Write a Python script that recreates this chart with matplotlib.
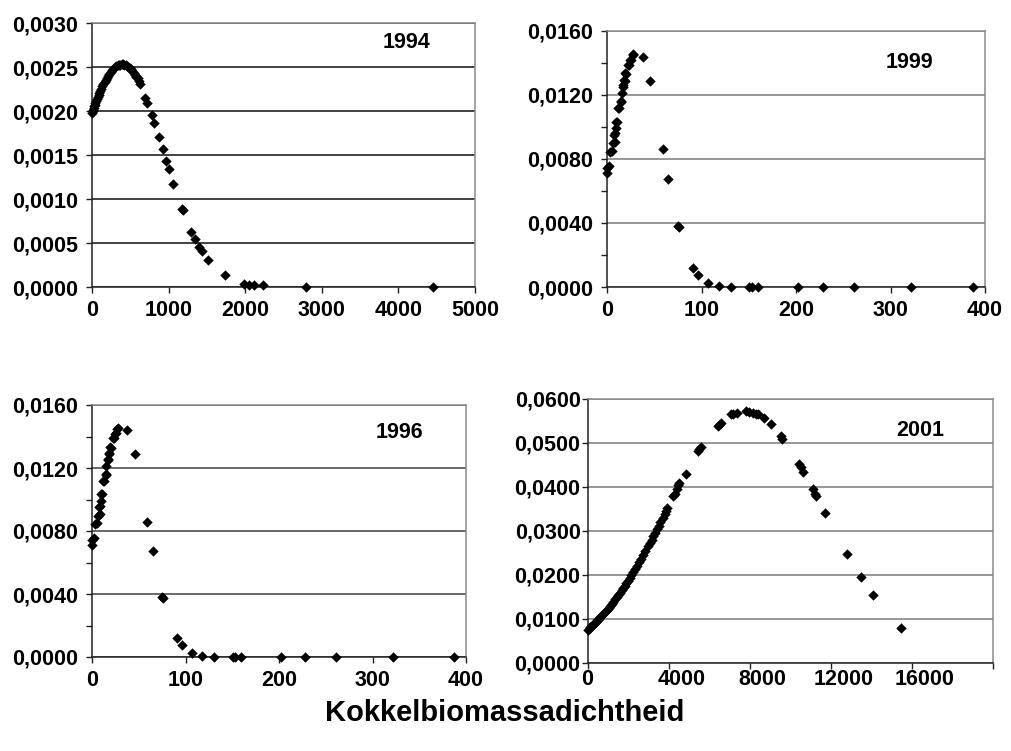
import matplotlib
matplotlib.use("Agg")
import matplotlib.pyplot as plt
from matplotlib.ticker import FuncFormatter, MultipleLocator
import matplotlib.transforms as mtransforms

plt.rcParams['font.family'] = ['Liberation Sans', 'DejaVu Sans']
plt.rcParams['font.weight'] = 'bold'

W, H = 1011, 751

# ---- 1994 ----
x_1994 = [0, 8, 15, 22, 30, 38, 45, 55, 65, 75, 85, 95, 108, 120, 135, 150, 165,
          180, 195, 210, 228, 245, 262, 280, 298, 316, 335, 352, 370, 388, 405,
          422, 440, 458, 475, 492, 510, 528, 545, 562, 580, 598, 615, 632,
          697, 719, 784, 810, 875, 928, 962, 1002, 1058, 1172, 1189, 1298, 1350,
          1398, 1433, 1516, 1733, 1982, 2047, 2112, 2234, 2800, 4456]
y_1994 = [0.001980, 0.002000, 0.002017, 0.002034, 0.002053, 0.002072, 0.002089,
          0.002112, 0.002134, 0.002156, 0.002178, 0.002199, 0.002226, 0.002250,
          0.002279, 0.002306, 0.002332, 0.002356, 0.002380, 0.002401, 0.002425,
          0.002446, 0.002464, 0.002481, 0.002496, 0.002508, 0.002518, 0.002524,
          0.002528, 0.002530, 0.002529, 0.002526, 0.002520, 0.002511, 0.002501,
          0.002488, 0.002472, 0.002454, 0.002434, 0.002412, 0.002390, 0.002370,
          0.002345, 0.002310,
          0.002153, 0.002096, 0.001956, 0.001860, 0.001700, 0.001570, 0.001436,
          0.001337, 0.001166, 0.000892, 0.000873, 0.000627, 0.000547, 0.000456,
          0.000410, 0.000304, 0.000133, 0.000034, 0.000027, 0.000019, 0.000019,
          0.000003, 0.000001]

# ---- 1999 ----
x_1999 = [0, 0.5, 1.8, 3.2, 5.0, 6.0, 7.4, 8.1, 8.8, 9.5, 9.9, 10.2, 12.0, 12.5,
          14.5, 14.8, 15.5, 16.6, 17.0, 18.0, 18.7, 19.4, 20.1, 22.6, 23.5, 24.3,
          25.2, 27.2, 27.9, 37.7, 45.5, 58.9, 64.9, 75.0, 75.8, 90.7, 96.0,
          106.5, 118.0, 131.0, 150.6, 153.0, 159.5, 201.8, 228.3, 261.4, 321.7,
          387.6]
y_1999 = [0.00711, 0.00742, 0.00756, 0.00846, 0.00850, 0.00898, 0.00950, 0.00908,
          0.00960, 0.01033, 0.00992, 0.01033, 0.01117, 0.01120, 0.01158, 0.01165,
          0.01210, 0.01252, 0.01260, 0.01294, 0.01290, 0.01335, 0.01330, 0.01388,
          0.01390, 0.01419, 0.01420, 0.01450, 0.01454, 0.01440, 0.01290, 0.00860,
          0.00675, 0.00380, 0.00372, 0.00121, 0.00075, 0.00027, 0.00006, 0.00001,
          0.0, 0.0, 0.0, 0.0, 0.0, 0.0, 0.0, 0.0]

# ---- 1996 ----
x_1996 = list(x_1999)
y_1996 = list(y_1999)

# ---- 2001 ----
x_2001 = [0, 60, 120, 180, 250, 320, 400, 480, 560, 640, 720, 800, 880, 960, 1040,
          1120, 1200, 1280, 1360, 1440, 1520, 1600, 1680, 1760, 1840, 1920, 2000,
          2080, 2170, 2260, 2350, 2440, 2540, 2640, 2740, 2850, 3000, 3080, 3160,
          3250, 3340, 3430, 3520, 3600, 3700, 3800, 3880, 3940,
          4198, 4321, 4400, 4486, 4527, 4864, 5432, 5500, 5589, 6420, 6500, 6600,
          7078, 7200, 7358, 7819, 7950, 8148, 8300, 8400, 8724, 9053, 9547, 9600,
          10453, 10550, 10650, 11111, 11200, 11276, 11720, 12807, 13498, 14074,
          15473]
y_2001 = [0.00760, 0.00784, 0.00809, 0.00834, 0.00864, 0.00894, 0.00930, 0.00967,
          0.01005, 0.01045, 0.01085, 0.01126, 0.01168, 0.01212, 0.01256, 0.01302,
          0.01349, 0.01397, 0.01445, 0.01495, 0.01546, 0.01598, 0.01652, 0.01706,
          0.01761, 0.01817, 0.01874, 0.01932, 0.01999, 0.02067, 0.02136, 0.02206,
          0.02285, 0.02365, 0.02447, 0.02538, 0.02664, 0.02732, 0.02801, 0.02879,
          0.02957, 0.03036, 0.03116, 0.03200, 0.03290, 0.03390, 0.03460, 0.03530,
          0.03800, 0.03850, 0.03950, 0.04040, 0.04100, 0.04300, 0.04820, 0.04870,
          0.04910, 0.05380, 0.05420, 0.05460, 0.05650, 0.05660, 0.05690, 0.05730,
          0.05710, 0.05690, 0.05660, 0.05650, 0.05560, 0.05440, 0.05160, 0.05090,
          0.04520, 0.04450, 0.04340, 0.03960, 0.03850, 0.03800, 0.03420, 0.02480,
          0.01960, 0.01540, 0.00800]

x_title = "Kokkelbiomassadichtheid"

FS = 15.5
fig = plt.figure(figsize=(W / 100, H / 100), dpi=100)


def px_rect(left, top, right, bottom):
    return [left / W, 1 - bottom / H, (right - left) / W, (bottom - top) / H]


def comma_fmt(v, pos):
    return f"{v:.4f}".replace('.', ',')


def panel(rect, x, y, xlim, xticks, xlabels, ylim, ystep, yminor, gridcolor,
          ypad=6, xpad=5, xoff=0):
    ax = fig.add_axes(rect)
    ax.scatter(x, y, marker='D', s=28, color='black', linewidths=0, zorder=3,
               clip_on=False)
    ax.set_xlim(*xlim)
    ax.set_ylim(*ylim)
    ax.set_xticks(xticks)
    ax.set_xticklabels(xlabels)
    ax.yaxis.set_major_locator(MultipleLocator(ystep))
    if yminor:
        ax.yaxis.set_minor_locator(MultipleLocator(yminor))
    ax.yaxis.set_major_formatter(FuncFormatter(comma_fmt))
    ax.yaxis.grid(True, color=gridcolor, linewidth=1.1)
    ax.set_axisbelow(True)
    for s in ('top', 'right'):
        ax.spines[s].set_color('#8a8a8a')
        ax.spines[s].set_linewidth(1.1)
    for s in ('left', 'bottom'):
        ax.spines[s].set_color('#202020')
        ax.spines[s].set_linewidth(1.1)
    ax.tick_params(axis='both', which='major', direction='out', length=4,
                   width=1, color='#202020', labelsize=FS)
    ax.tick_params(axis='y', which='major', pad=ypad)
    ax.tick_params(axis='x', which='major', pad=xpad)
    ax.tick_params(axis='y', which='minor', direction='out', length=4, width=1,
                   color='#202020')
    for lab in ax.get_xticklabels() + ax.get_yticklabels():
        lab.set_fontweight('bold')
    if xoff:
        off = mtransforms.ScaledTranslation(xoff / 100, 0, fig.dpi_scale_trans)
        for lab in ax.get_xticklabels()[1:]:
            lab.set_transform(lab.get_transform() + off)
    return ax


panel(px_rect(92, 23, 475, 287), x_1994, y_1994, (0, 5000),
      [0, 1000, 2000, 3000, 4000, 5000], ['0', '1000', '2000', '3000', '4000', '5000'],
      (0, 0.003), 0.0005, None, '#101010')
panel(px_rect(607, 31, 985, 287), x_1999, y_1999, (0, 400),
      [0, 100, 200, 300, 400], ['0', '100', '200', '300', '400'],
      (0, 0.016), 0.004, 0.002, '#7a7a7a')
panel(px_rect(92, 405, 466, 657), x_1996, y_1996, (0, 400),
      [0, 100, 200, 300, 400], ['0', '100', '200', '300', '400'],
      (0, 0.016), 0.004, 0.002, '#404040')
panel(px_rect(587.5, 399, 993, 663), x_2001, y_2001, (0, 20000),
      [0, 4000, 8000, 12000, 16000, 20000], ['0', '4000', '8000', '12000', '16000', ''],
      (0, 0.06), 0.01, None, '#7a7a7a', ypad=1, xpad=0, xoff=13)

for txt, (px, py) in {'1994': (407, 42), '1999': (909, 62),
                      '1996': (399, 432), '2001': (920, 431)}.items():
    fig.text(px / W, 1 - py / H, txt, ha='center', va='center',
             fontsize=FS, fontweight='bold')

fig.text(505 / W, 1 - 713 / H, x_title, ha='center', va='center',
         fontsize=21, fontweight='bold')

fig.savefig('out.png', dpi=100)
